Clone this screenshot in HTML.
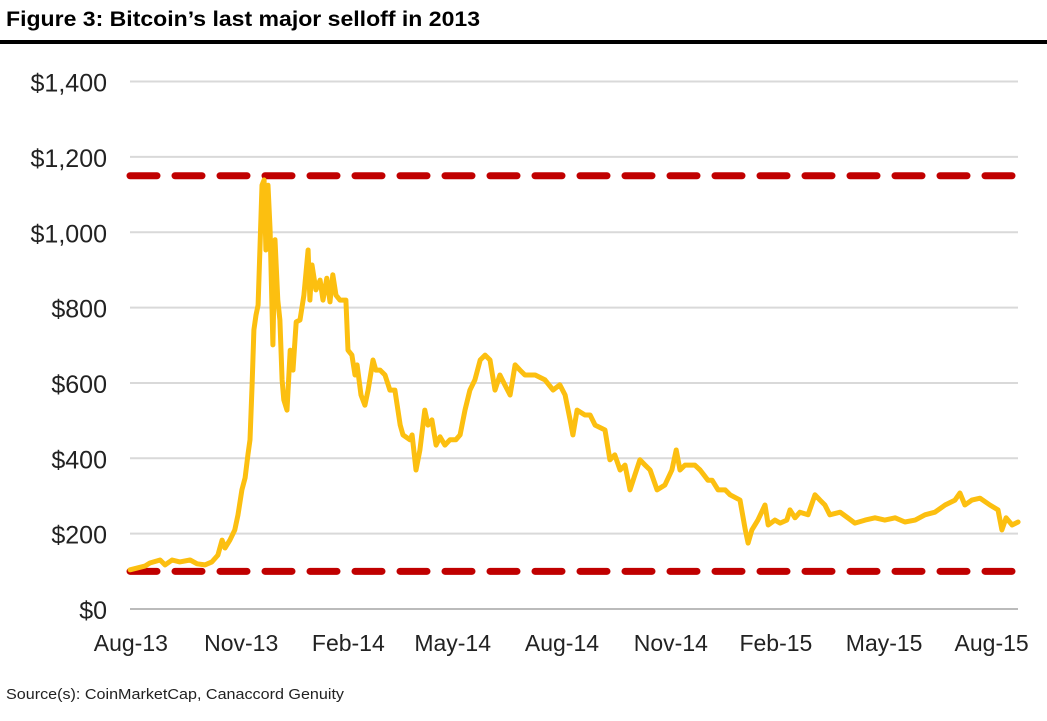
<!DOCTYPE html>
<html><head><meta charset="utf-8"><style>
body{margin:0;background:#fff;width:1047px;height:716px;overflow:hidden;font-family:"Liberation Sans",sans-serif}
</style></head><body>
<svg id="c" width="1047" height="716">
<text x="6" y="26" font-size="21" font-weight="bold" font-family="Liberation Sans" fill="#000" textLength="474" lengthAdjust="spacingAndGlyphs">Figure 3: Bitcoin’s last major selloff in 2013</text>
<rect x="0" y="40" width="1047" height="4" fill="#000"/>
<text x="6" y="699" font-size="15" fill="#222" textLength="338" lengthAdjust="spacingAndGlyphs">Source(s): CoinMarketCap, Canaccord Genuity</text>
<g id="grid"></g><g id="ylab"></g><g id="xlab"></g><g id="refs"></g><g id="series"></g>
</svg>
<script>
const yTicks=[0,200,400,600,800,1000,1200,1400];
const xLabels=["Aug-13","Nov-13","Feb-14","May-14","Aug-14","Nov-14","Feb-15","May-15","Aug-15"];
const xLabelMonths=[-0.43,2.70,5.74,8.70,11.80,14.89,17.87,20.94,23.99];
const refLevels=[1150,100];
const months=[-0.45,-0.03,0.11,0.40,0.54,0.74,0.96,1.25,1.45,1.67,1.87,2.04,2.16,2.24,2.38,2.52,2.61,2.72,2.81,2.89,2.95,3.01,3.06,3.12,3.18,3.23,3.29,3.35,3.40,3.46,3.52,3.60,3.66,3.74,3.80,3.86,3.91,4.00,4.09,4.17,4.26,4.37,4.48,4.60,4.65,4.71,4.82,4.94,5.02,5.13,5.22,5.30,5.39,5.50,5.67,5.73,5.84,5.93,5.99,6.10,6.21,6.30,6.44,6.52,6.64,6.78,6.92,7.06,7.21,7.29,7.49,7.55,7.66,7.77,7.91,8.00,8.11,8.23,8.34,8.48,8.62,8.79,8.91,9.05,9.19,9.33,9.48,9.62,9.76,9.90,10.04,10.18,10.33,10.47,10.61,10.75,11.04,11.32,11.55,11.74,11.89,12.03,12.11,12.23,12.45,12.60,12.74,13.02,13.16,13.30,13.45,13.59,13.73,13.87,14.01,14.16,14.30,14.50,14.72,14.92,15.04,15.15,15.29,15.43,15.57,15.72,15.94,16.06,16.23,16.43,16.57,16.85,17.00,17.08,17.19,17.36,17.56,17.65,17.84,17.99,18.18,18.27,18.41,18.55,18.78,18.98,19.12,19.26,19.40,19.69,19.91,20.11,20.40,20.68,20.96,21.25,21.53,21.82,22.10,22.38,22.67,22.95,23.09,23.23,23.43,23.66,23.94,24.17,24.28,24.40,24.57,24.74];
const prices=[104,114,122,130,117,130,125,130,120,117,125,143,183,162,183,210,250,316,348,409,449,595,741,780,807,953,1125,1139,953,1125,1006,701,980,820,767,608,555,528,687,634,762,767,833,953,820,913,847,873,820,878,815,887,833,820,820,687,674,621,648,568,541,581,661,634,634,621,581,581,488,462,449,462,369,422,528,488,502,435,457,435,449,449,462,528,581,608,661,674,661,581,621,595,568,648,634,621,621,608,581,595,568,502,462,528,515,515,488,475,396,409,369,382,316,356,396,382,369,316,329,369,422,369,382,382,382,369,342,342,316,316,303,289,210,175,210,236,276,223,236,228,236,263,242,257,250,303,289,276,250,257,242,228,236,242,236,242,231,236,250,257,276,289,308,276,289,294,276,263,210,242,223,231];
const NS="http://www.w3.org/2000/svg";
const X0=130,X1=1018;
function xs(m){return 146+m*35.25;}
function ys(v){return 609-v/200*75.35;}
function mk(tag,attrs,parent){const e=document.createElementNS(NS,tag);for(const k in attrs)e.setAttribute(k,attrs[k]);document.getElementById(parent).appendChild(e);return e;}
yTicks.forEach(v=>{
  const l=mk('line',{x1:X0,x2:X1,y1:ys(v),y2:ys(v),stroke:v===0?'#bbb':'#d9d9d9','stroke-width':2},'grid');
  
  
  const t=mk('text',{x:107,y:ys(v)+10,'text-anchor':'end','font-size':25,fill:'#222'},'ylab');
  t.textContent='$'+v.toLocaleString('en-US');
  
  
});
xLabels.forEach((s,i)=>{
  const t=mk('text',{x:xs(xLabelMonths[i]),y:651,'text-anchor':'middle','font-size':23,fill:'#222'},'xlab');
  t.textContent=s;
  
  
});
refLevels.forEach(v=>{
  const l=mk('line',{x1:X0,x2:X1,y1:ys(v),y2:ys(v),stroke:'#c00000','stroke-width':7,'stroke-dasharray':'27 18','stroke-linecap':'round'},'refs');
  
  
});
const d=months.map((m,i)=>(i?'L':'M')+xs(m).toFixed(1)+','+ys(prices[i]).toFixed(1)).join('');
const p=mk('path',{d:d,fill:'none',stroke:'#fcbf10','stroke-width':5,'stroke-linejoin':'round','stroke-linecap':'round'},'series');


</script>
</body></html>
